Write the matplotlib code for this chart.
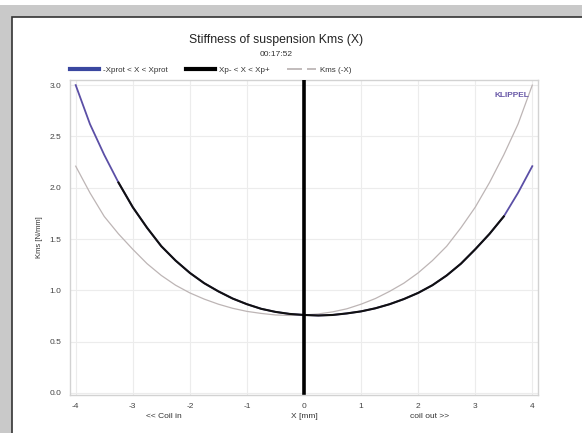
import matplotlib
matplotlib.use("Agg")
import matplotlib.pyplot as plt
from matplotlib.patches import Rectangle
from matplotlib.lines import Line2D
import numpy as np

plt.rcParams['font.family'] = ['Liberation Sans', 'DejaVu Sans']

# Data
x_mm = [-4.0, -3.75, -3.5, -3.25, -3.0, -2.75, -2.5, -2.25, -2.0, -1.75, -1.5, -1.25,
        -1.0, -0.75, -0.5, -0.25, 0.0, 0.25, 0.5, 0.75, 1.0, 1.25, 1.5, 1.75,
        2.0, 2.25, 2.5, 2.75, 3.0, 3.25, 3.5, 3.75, 4.0]
kms = [3.00, 2.62, 2.32, 2.05, 1.81, 1.61, 1.43, 1.29, 1.17, 1.07, 0.99, 0.92,
       0.865, 0.82, 0.79, 0.77, 0.76, 0.755, 0.76, 0.775, 0.795, 0.825, 0.865, 0.915,
       0.975, 1.05, 1.145, 1.26, 1.40, 1.55, 1.72, 1.95, 2.21]
xp_minus, xp_plus = -3.25, 3.5
x_ticks = [-4, -3, -2, -1, 0, 1, 2, 3, 4]
y_ticks = [0.0, 0.5, 1.0, 1.5, 2.0, 2.5, 3.0]

W, H = 582, 433
fig = plt.figure(figsize=(W / 100, H / 100), dpi=100, facecolor='#c9c9c9')
# top white strip and white panel
fig.patches.append(Rectangle((0, 1 - 5 / H), 1, 5 / H, transform=fig.transFigure,
                             facecolor='white', edgecolor='none', zorder=-2))
fig.patches.append(Rectangle((12 / W, -0.01), 1.0, 1 - 17 / H + 0.01, transform=fig.transFigure,
                             facecolor='white', edgecolor='#333333', linewidth=1.2, zorder=-2))

ax = fig.add_axes([70 / W, 1 - 395 / H, 468 / W, 315 / H])
ax.set_zorder(2)
ax.set_facecolor('white')
ax.set_xlim(-4.1, 4.1)
ax.set_ylim(-0.02, 3.05)

x_arr = np.array(x_mm)
k_arr = np.array(kms)
mask = (x_arr >= xp_minus) & (x_arr <= xp_plus)

# mirrored curve Kms(-X)
ax.plot(-x_arr[::-1], k_arr[::-1], color='#bdb5b5', lw=0.9, zorder=2)
ax.plot(x_arr, k_arr, color='#5b4fa6', lw=1.3, zorder=3)
ax.plot(x_arr[mask], k_arr[mask], color='#111111', lw=1.5, zorder=4)
ax.plot([0, 0], [0, 3.05], color='black', lw=2.6, zorder=5)

ax.set_xticks(x_ticks)
ax.set_yticks(y_ticks)
ax.set_xticklabels([str(t) for t in x_ticks])
ax.set_yticklabels([f"{t:.1f}" for t in y_ticks])
ax.tick_params(length=0, labelsize=6, colors='#444444', pad=6)
ax.grid(True, color='#ececec', lw=0.8)
for s in ax.spines.values():
    s.set_color('#d2d2d2')
    s.set_linewidth(1.0)

ax.set_ylabel('Kms [N/mm]', fontsize=5.5, color='#333333', labelpad=5)
ax.text(0, -0.2, 'X [mm]', ha='center', va='top', fontsize=6, color='#333333', clip_on=False)
ax.text(-2.45, -0.2, '<< Coil in', ha='center', va='top', fontsize=6, color='#333333', clip_on=False)
ax.text(2.2, -0.2, 'coil out >>', ha='center', va='top', fontsize=6, color='#333333', clip_on=False)
ax.text(3.95, 2.9, 'KLIPPEL', ha='right', va='center', fontsize=6, color='#6a5aa8', fontweight='bold')

fig.text(0.475, 1 - 40 / H, 'Stiffness of suspension Kms (X)', ha='center', va='center',
         fontsize=8.8, color='#222222')
fig.text(0.475, 1 - 55 / H, '00:17:52', ha='center', va='center', fontsize=6, color='#333333')

handles = [Line2D([], [], color='#3a47a0', lw=3.0),
           Line2D([], [], color='#000000', lw=3.0),
           Line2D([], [], color='#b8b0b0', lw=1.2, dashes=(9, 3))]
labels = ['-Xprot < X < Xprot', 'Xp- < X < Xp+', 'Kms (-X)']
fig.legend(handles, labels, ncol=3, loc='center left', bbox_to_anchor=(66 / W, 1 - 70 / H),
           frameon=False, fontsize=5.8, handlelength=3.6, columnspacing=2.2, handletextpad=0.5,
           borderpad=0, labelcolor='#333333')

fig.savefig('out.png', dpi=100, facecolor=fig.get_facecolor())
